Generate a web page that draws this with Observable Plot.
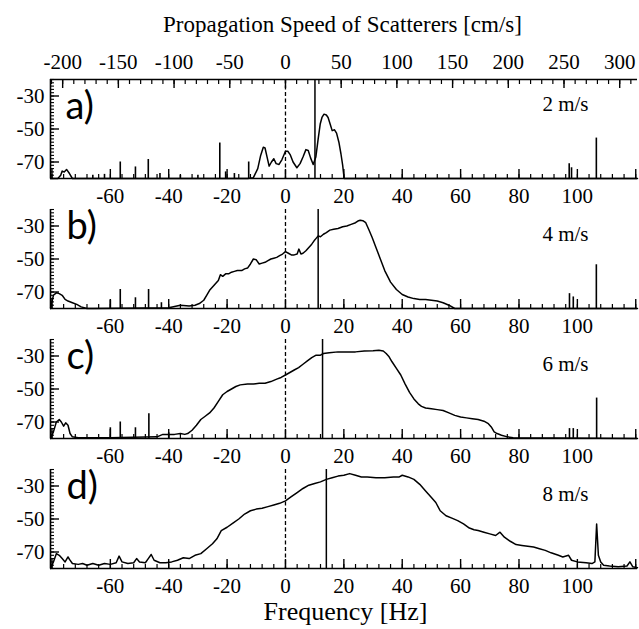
<!DOCTYPE html>
<html><head><meta charset="utf-8">
<script src="https://cdn.jsdelivr.net/npm/d3@7"></script>
<script src="https://cdn.jsdelivr.net/npm/@observablehq/plot@0.6"></script>
<style>
body{margin:0;background:#fff;}
#wrap{position:relative;width:639px;height:629px;overflow:hidden;background:#fff;}
#title{position:absolute;left:0;width:685px;top:12.7px;text-align:center;font-family:"Liberation Serif","Times New Roman",serif;font-size:23px;line-height:23px;color:#000;white-space:nowrap;}
#chart{position:absolute;left:0;top:40px;}
#xlabel{position:absolute;left:0;width:691px;top:602px;text-align:center;font-family:"Liberation Serif","Times New Roman",serif;font-size:26px;line-height:20px;color:#000;white-space:nowrap;}
</style></head><body>
<div id="wrap"><div id="title">Propagation Speed of Scatterers [cm/s]</div><div id="chart"></div><div id="xlabel">Frequency [Hz]</div></div>
<script>
// ---- data ----
const panels = ["a","b","c","d"];
const panelLetters = ["a)","b)","c)","d)"];
const windLabels = ["2 m/s","4 m/s","6 m/s","8 m/s"];
const windLineHz = [10.1, 11.2, 12.7, 14.0];
const speedPerHz = 2.62; // cm/s per Hz (top axis)
const speedTicks = [-200,-150,-100,-50,0,50,100,150,200,250,300];
const hzTicks = [-60,-40,-20,0,20,40,60,80,100];
const dbTicks = [-30,-50,-70];

const aHz = [-80.5,-78,-77,-76.5,-75.8,-75,-74,-73,-13,-11,-9.5,-8.5,-7.6,-7,-6.3,-5.6,-4.8,-4,-3.2,-2.2,-1.2,0,0.8,1.6,2.6,3.9,5,6,7,7.8,8.6,9.5,10.4,11.2,11.9,12.5,13.2,14,14.6,15.3,16,16.8,17.5,18.3,19,19.6,20.1,120.6];
const aDb = [-80,-80,-78,-75.5,-76,-74.5,-77,-80,-80,-79.5,-74,-66,-61,-61.5,-67,-72.5,-70,-68,-71,-71.5,-68.5,-63.5,-63.5,-65.5,-70,-73.5,-71,-67,-62.5,-63,-67.5,-71.5,-67,-56,-47,-43,-41,-41.5,-43,-47,-51,-50.5,-52.5,-58,-65,-72,-80,-80];
const aSpikeHz = [-66,-62,-56.6,-51.4,-47,-43,-36,-30,-22.5,-20.5,-17.5,-12.6,97.2,98,106.5];
const aSpikeDb = [-78,-77.5,-70,-73,-68.5,-77,-78,-78,-58.5,-76,-77,-70,-71,-73.5,-55.5];

const bHz = [-80.5,-79.5,-78.5,-77.5,-76.5,-75.5,-74.5,-73,-71.5,-70,-68,-66,-40,-36,-33,-31,-29.5,-28,-27,-26,-25,-24,-23,-22.3,-21.5,-20.5,-19.5,-18.5,-17.5,-16.5,-15,-14,-13,-12,-11,-10,-9,-8,-7,-6,-5,-4,-3,-2,-1,0,1,2,3,4,4.6,5.3,6,7,8,9,9.8,10.5,11.2,12,13,14,15.2,16.5,18,19.6,21,22.5,24,24.8,25.6,26.5,27.5,28.5,29.7,31,32.5,34,36,38,40,42,44,46,48,50,52,54,56,58,120.6];
const bDb = [-80,-72,-70.5,-71,-72,-74.5,-75.5,-76.5,-77.5,-79,-80,-80,-79.5,-78,-78.5,-78,-77,-75,-72,-69,-67,-65,-63,-59.5,-60.5,-59,-59,-58,-57.5,-57,-57,-56,-55.5,-53,-50,-50.5,-53,-52.5,-52,-51,-50,-49.5,-49,-48,-47,-45.5,-46.5,-47.5,-47.5,-47,-44,-47,-46.5,-45,-43,-41,-39,-37.5,-36,-36.5,-35,-34,-32.5,-32,-31.5,-30.5,-30,-29,-28,-27,-26.5,-26.8,-28,-32,-37,-43,-50,-57,-64,-68.5,-71.5,-73,-74,-74.5,-74.5,-75,-75.5,-76.5,-78,-80,-80];
const bSpikeHz = [-60,-56.6,-51.4,-46.9,-42.5,97.3,98.6,106.5];
const bSpikeDb = [-75,-68.5,-73.5,-68.5,-76.5,-71,-73,-53.5];

const cHz = [-80.5,-79.5,-78.5,-77.5,-76.8,-76,-75.3,-74.5,-73.8,-73,-71,-60,-44,-42,-40,-38,-36,-34.5,-33.5,-32,-30.5,-29,-27.5,-26,-24.5,-23,-21.5,-20,-18.5,-17,-15.5,-13,-11,-9,-7,-5,-3,-1.5,0,1.5,3,4.5,6,7.5,9,10.5,12,13,15,18,21,24,27,30,32,33.5,34.5,35.5,36.5,38,39.5,41,42.5,44,45.5,46.6,48,50,52,54,56,58,60,62,64,66,68,69.5,70.5,71.5,72.5,74,76,78,120.6];
const cDb = [-80,-76,-70,-68.5,-70,-72.5,-70.5,-72,-77,-79,-79.5,-79.5,-79,-77.5,-77.5,-77.5,-77,-77.5,-77,-75,-72,-68.5,-66.5,-64.5,-61.5,-57.5,-53.5,-51.5,-50,-48.5,-47.5,-47,-47,-46.5,-46.5,-45.5,-44,-43,-41.5,-40,-38.5,-37,-35,-33,-31,-29.5,-29.5,-28.5,-28,-27.5,-27.5,-27.5,-27,-26.8,-26.5,-27,-28.5,-30.5,-33.5,-37.5,-41.5,-47,-52,-56,-59,-60.5,-61.5,-62,-62.5,-63,-64.5,-66,-67,-67.5,-68,-68.5,-69.5,-71,-73,-76,-77,-78,-79,-79.5,-80];
const cSpikeHz = [-60,-56.6,-51.4,-46.8,-40,97.3,98.6,106.6];
const cSpikeDb = [-73.5,-70,-73.5,-65,-76.5,-74,-74,-55.5];

const dHz = [-80.5,-79.5,-78.5,-77.5,-76.5,-75.5,-74.5,-74,-73,-71,-69.5,-68,-66,-64,-62,-60,-58,-57,-56,-54,-52,-51,-50,-48,-47,-46,-45,-43,-41,-39,-37,-35,-33,-31,-29,-27,-25,-23.5,-22,-20,-18,-16,-14,-12,-10,-8,-6,-4,-2,0,2,4,6,8,10,12,14,16,18,20,22,24,26,28,31,34,37,39,40,42,44,46,48,50,51.5,53,55,57,59,61,63,64.6,66,68,70,72,73.5,75,77,79,81,83,85,87,89,91,93.5,95,97,98,100,103,105,106,106.6,107.2,108,109,111,114,117,118,119,120.6];
const dDb = [-80,-76,-71,-72,-74,-76,-73,-74.5,-77,-77.5,-77,-78,-77,-78,-77,-77.5,-76.5,-72.5,-76,-77,-76.5,-74,-76,-76.5,-74,-71.5,-75,-76.5,-76.5,-76,-75,-73.5,-74,-72,-71,-68,-65,-62,-57,-55,-52.5,-50,-47,-45,-44,-43.5,-42.5,-41.5,-40.5,-39,-36.5,-34,-31.5,-29.5,-28.5,-27.5,-26,-25,-24,-23.5,-22.5,-23.5,-24.5,-24.5,-25,-25,-24.5,-24.5,-23.5,-24.5,-26,-29,-33,-37,-40,-45,-48,-49.5,-51,-53,-55.5,-56.5,-57,-58,-59,-60,-58,-61,-63.5,-65.5,-66,-66.5,-67,-68,-69,-70.5,-72,-73,-72,-75,-76,-76.5,-77,-76,-53,-72,-76,-78,-78.5,-79,-78.5,-76,-79,-79.5];
const dSpikeHz = [];
const dSpikeDb = [];

// ---- tables ----
const traceSets = [[aHz,aDb],[bHz,bDb],[cHz,cDb],[dHz,dDb]];
const spikeSets = [[aSpikeHz,aSpikeDb],[bSpikeHz,bSpikeDb],[cSpikeHz,cSpikeDb],[dSpikeHz,dSpikeDb]];
const traces = traceSets.flatMap(([h,v],i) => h.map((x,j) => ({panel: panels[i], hz: x, db: v[j]})));
const spikes = spikeSets.flatMap(([h,v],i) => h.map((x,j) => ({panel: panels[i], hz: x, db: v[j]})));
const labels = panels.map((p,i) => ({panel: p, letter: panelLetters[i], wind: windLabels[i], line: windLineHz[i]}));

// ---- layout ----
const W = 639, H = 558, mL = 50, mR = 2, mT = 39, mB = 30;
const gap = 31;
const innerH = H - mT - mB;
const panelH = (innerH - 3 * gap) / 4;
const frameW = W - mL - mR;
const xDomain = [-80.5, 120.6];
const yDomain = [-80, -20];

const hzMinor = d3.range(-80, 121, 4);
const hzMajor = d3.range(-80, 121, 20);
const spMajorHz = speedTicks.map(s => s / speedPerHz);
const topMinor = d3.range(-210, 311, 10).map(s => ({panel: "a", hz: s / speedPerHz}));
const topMajor = spMajorHz.map(h => ({panel: "a", hz: h}));
const topLine = [{panel: "a", db: yDomain[1]}];
const dbMinor = d3.range(-80, -19, 2);
const serif = '"Liberation Serif", "Times New Roman", serif';

const chart = Plot.plot({
  width: W, height: H,
  marginLeft: mL, marginRight: mR, marginTop: mT, marginBottom: mB,
  style: {fontFamily: serif, fontSize: "21px", color: "#000", background: "#fff", overflow: "visible"},
  x: {domain: xDomain, label: null},
  y: {domain: yDomain, label: null},
  fy: {domain: panels, paddingInner: gap / (panelH + gap), paddingOuter: 0, round: false, axis: null, label: null},
  marks: [
    // frame lines
    Plot.ruleY([yDomain[0]], {strokeWidth: 1.6}),
    Plot.ruleX([xDomain[0]], {strokeWidth: 1.6}),
    Plot.ruleY(topLine, {y: "db", fy: "panel", strokeWidth: 1.6}),
    // bottom ticks (inward)
    Plot.ruleX(hzMinor, {insetTop: panelH - 4, strokeWidth: 1.2}),
    Plot.ruleX(hzMajor, {insetTop: panelH - 9, strokeWidth: 1.4}),
    // left ticks (inward)
    Plot.ruleY(dbMinor, {insetRight: frameW - 4, strokeWidth: 1.1}),
    Plot.ruleY(dbTicks, {insetRight: frameW - 9, strokeWidth: 1.4}),
    // top speed ticks (panel a only)
    Plot.ruleX(topMinor, {x: "hz", fy: "panel", insetBottom: panelH - 5, strokeWidth: 1.2}),
    Plot.ruleX(topMajor, {x: "hz", fy: "panel", insetBottom: panelH - 9, strokeWidth: 1.4}),
    // axis labels
    Plot.axisX(hzTicks, {anchor: "bottom", facetAnchor: null, tickSize: 0, tickPadding: 10, tickFormat: d => String(d), label: null, fontFamily: serif}),
    Plot.axisX(spMajorHz, {anchor: "top", facetAnchor: "top", tickSize: 0, tickPadding: 11, tickFormat: d => String(Math.round(d * speedPerHz)), label: null, fontFamily: serif}),
    Plot.axisY(dbTicks, {anchor: "left", tickSize: 0, tickPadding: 6, tickFormat: d => String(d), label: null, fontFamily: serif}),
    // reference lines
    Plot.ruleX([0], {strokeDasharray: "4,2.5", strokeWidth: 1.3}),
    Plot.ruleX(labels, {x: "line", fy: "panel", strokeWidth: 1.5}),
    // spectra
    Plot.ruleX(spikes, {x: "hz", y1: yDomain[0], y2: "db", fy: "panel", strokeWidth: 1.6}),
    Plot.line(traces, {x: "hz", y: "db", fy: "panel", z: "panel", stroke: "#000", strokeWidth: 1.5, curve: "linear"}),
    // panel letters
    Plot.text(labels, {filter: d => d.panel === "a", fy: "panel", text: "letter", frameAnchor: "top-left", textAnchor: "start", lineAnchor: "bottom", dx: 15, dy: 39, fontFamily: "Lato, 'DejaVu Sans', sans-serif", fontWeight: 400, fontSize: 38}),
    Plot.text(labels, {filter: d => d.panel !== "a", fy: "panel", text: "letter", frameAnchor: "top-left", textAnchor: "start", lineAnchor: "bottom", dx: 16, dy: 29, fontFamily: "Lato, 'DejaVu Sans', sans-serif", fontWeight: 400, fontSize: 38}),
    // wind speed labels
    Plot.text(labels, {fy: "panel", text: "wind", frameAnchor: "top-right", textAnchor: "end", lineAnchor: "bottom", dx: -49, dy: 31, fontFamily: serif, fontSize: 21})
  ]
});
document.getElementById("chart").appendChild(chart);
</script>
</body></html>
